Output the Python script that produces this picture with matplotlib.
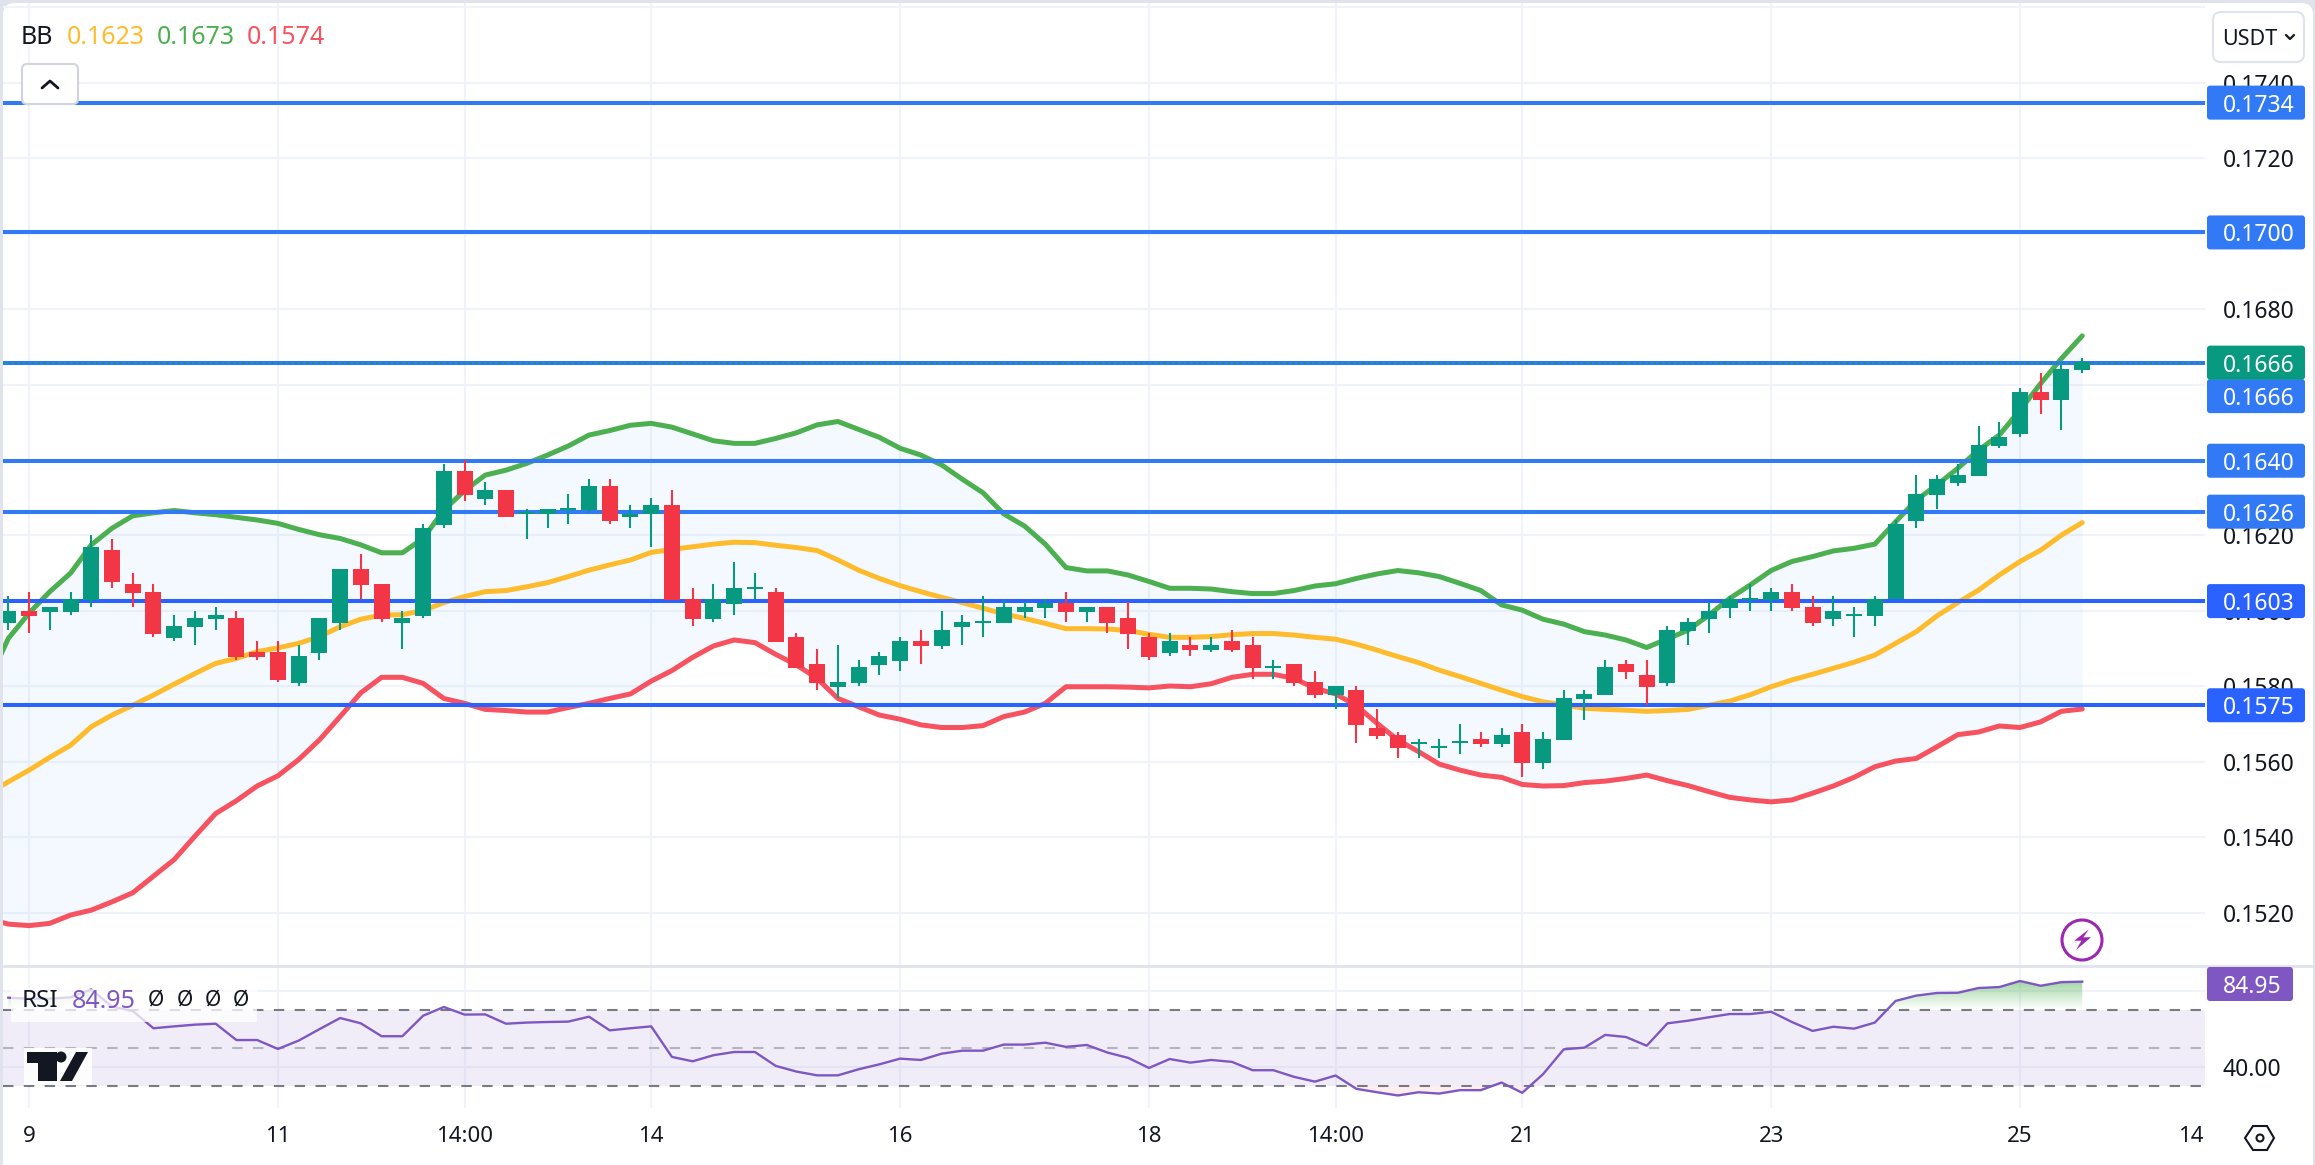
#!/usr/bin/env python3
"""TradingView style candle chart with Bollinger bands, levels and RSI pane."""

import matplotlib
matplotlib.use("Agg")
import matplotlib.pyplot as plt
import numpy as np
from matplotlib.colors import LinearSegmentedColormap
from matplotlib.patches import Circle, Ellipse, FancyBboxPatch, Polygon, Rectangle
from matplotlib.transforms import IdentityTransform

W, H = 2315, 1165

# candles, in 1e-5 USDT
opens = [15969, 16000, 15997, 15997, 16029, 16161, 16071, 16050, 15928, 15957, 15979, 15981, 15891, 15891, 15809, 15888, 15968,
	16111, 16071, 15968, 15986, 16228, 16371, 16297, 16320, 16258, 16257, 16267, 16267, 16331, 16249, 16257, 16281, 16032,
	15979, 16018, 16058, 16050, 15931, 15859, 15798, 15809, 15857, 15867, 15920, 15907, 15957, 15969, 15968, 15997, 16008,
	16021, 15997, 16010, 15981, 15931, 15888, 15910, 15896, 15920, 15910, 15849, 15859, 15812, 15777, 15790, 15690, 15671,
	15647, 15637, 15650, 15661, 15647, 15679, 15597, 15658, 15767, 15777, 15859, 15830, 15809, 15947, 15979, 16008, 16029,
	16029, 16050, 16010, 15979, 15987, 15987, 16032, 16238, 16307, 16339, 16357, 16437, 16469, 16580, 16559, 16638]
highs = [16040, 16050, 16010, 16050, 16201, 16191, 16100, 16071, 15989, 16000, 16010, 16000, 15920, 15920, 15910, 15981, 16111,
	16151, 16071, 16000, 16230, 16389, 16400, 16342, 16320, 16270, 16270, 16310, 16350, 16350, 16281, 16299, 16320, 16061,
	16071, 16130, 16100, 16061, 15941, 15899, 15910, 15870, 15891, 15931, 15949, 16000, 15989, 16040, 16029, 16024, 16032,
	16050, 16010, 16010, 16024, 15941, 15941, 15931, 15931, 15949, 15931, 15870, 15859, 15841, 15801, 15801, 15740, 15679,
	15661, 15661, 15700, 15679, 15690, 15700, 15679, 15790, 15790, 15870, 15870, 15870, 15960, 15981, 16024, 16040, 16071,
	16061, 16071, 16040, 16040, 16010, 16040, 16241, 16360, 16360, 16389, 16490, 16501, 16591, 16630, 16652, 16670]
lows = [15949, 15941, 15949, 15989, 16010, 16061, 16010, 15931, 15920, 15910, 15949, 15870, 15870, 15812, 15801, 15870, 15949,
	16032, 15971, 15899, 15981, 16220, 16291, 16281, 16249, 16191, 16220, 16230, 16259, 16230, 16220, 16169, 16029, 15960,
	15971, 15989, 16032, 15918, 15849, 15790, 15769, 15801, 15830, 15841, 15859, 15899, 15910, 15931, 15968, 15981, 15981,
	15971, 15971, 15941, 15899, 15870, 15881, 15881, 15891, 15891, 15820, 15820, 15801, 15769, 15740, 15650, 15661, 15610,
	15610, 15610, 15621, 15639, 15639, 15560, 15581, 15658, 15711, 15777, 15820, 15751, 15801, 15910, 15941, 15981, 16000,
	16000, 16000, 15960, 15960, 15931, 15960, 16032, 16220, 16270, 16331, 16357, 16432, 16461, 16522, 16479, 16630]
closes = [16000, 15986, 16010, 16032, 16169, 16077, 16047, 15939, 15960, 15981, 15989, 15878, 15878, 15817, 15880, 15981, 16111,
	16069, 15979, 15981, 16220, 16371, 16307, 16320, 16249, 16262, 16270, 16273, 16331, 16238, 16257, 16281, 16029, 15979,
	16032, 16061, 16063, 15918, 15849, 15809, 15812, 15851, 15880, 15920, 15907, 15949, 15971, 15973, 16010, 16010, 16021,
	15997, 16010, 15968, 15939, 15878, 15920, 15896, 15910, 15896, 15849, 15854, 15809, 15777, 15801, 15698, 15669, 15637,
	15653, 15640, 15653, 15647, 15671, 15597, 15661, 15769, 15780, 15851, 15838, 15798, 15949, 15971, 16000, 16032, 16034,
	16050, 16008, 15968, 16000, 15992, 16032, 16230, 16310, 16350, 16360, 16440, 16461, 16580, 16559, 16641, 16660]

# Bollinger bands, first value sits one bar before the first candle
bb_upper = [15808, 15927, 15994, 16051, 16100, 16175, 16219, 16252, 16260, 16266, 16260, 16255, 16248, 16241, 16232, 16216, 16202,
	16192, 16175, 16154, 16154, 16192, 16267, 16319, 16360, 16373, 16391, 16413, 16437, 16466, 16478, 16492, 16497, 16487,
	16469, 16451, 16444, 16444, 16457, 16472, 16493, 16502, 16481, 16460, 16431, 16413, 16387, 16349, 16313, 16257, 16225,
	16177, 16115, 16106, 16106, 16095, 16078, 16060, 16060, 16058, 16051, 16046, 16046, 16054, 16066, 16072, 16086, 16098,
	16107, 16101, 16091, 16073, 16054, 16016, 16002, 15978, 15965, 15945, 15936, 15923, 15903, 15926, 15949, 15989, 16033,
	16069, 16107, 16131, 16144, 16159, 16166, 16177, 16236, 16294, 16334, 16378, 16426, 16466, 16532, 16603, 16669, 16729]
bb_middle = [15516, 15547, 15578, 15612, 15644, 15693, 15724, 15750, 15777, 15806, 15834, 15861, 15874, 15892, 15902, 15914, 15932,
	15958, 15978, 15989, 15990, 16001, 16022, 16038, 16051, 16054, 16064, 16075, 16091, 16108, 16122, 16135, 16155, 16163,
	16170, 16177, 16182, 16181, 16174, 16168, 16160, 16135, 16108, 16086, 16067, 16051, 16036, 16022, 16007, 15992, 15980,
	15967, 15953, 15953, 15952, 15948, 15938, 15930, 15930, 15932, 15937, 15940, 15940, 15936, 15930, 15925, 15912, 15896,
	15879, 15863, 15843, 15826, 15808, 15790, 15773, 15759, 15751, 15742, 15739, 15737, 15734, 15736, 15739, 15750, 15761,
	15778, 15799, 15817, 15832, 15848, 15864, 15883, 15914, 15945, 15987, 16022, 16055, 16095, 16131, 16161, 16201, 16234]
bb_lower = [15185, 15170, 15166, 15172, 15194, 15207, 15229, 15253, 15297, 15341, 15403, 15463, 15497, 15536, 15563, 15606, 15658,
	15720, 15783, 15824, 15824, 15808, 15768, 15755, 15739, 15736, 15732, 15732, 15744, 15755, 15768, 15780, 15814, 15842,
	15877, 15907, 15923, 15916, 15885, 15857, 15821, 15768, 15746, 15724, 15713, 15698, 15691, 15691, 15696, 15720, 15732,
	15755, 15799, 15799, 15799, 15798, 15796, 15801, 15799, 15807, 15824, 15832, 15832, 15821, 15795, 15780, 15749, 15702,
	15658, 15627, 15594, 15578, 15565, 15559, 15540, 15536, 15537, 15545, 15549, 15556, 15565, 15550, 15537, 15521, 15506,
	15499, 15494, 15499, 15517, 15536, 15559, 15587, 15602, 15609, 15640, 15672, 15679, 15695, 15691, 15706, 15734, 15740]

rsi_values = [76.5, 76.0, 76.0, 76.7, 80.9, 71.8, 69.5, 60.4, 61.4, 62.3, 62.8, 54.2, 54.2, 49.5, 53.9, 59.9, 65.8, 63.0, 56.2, 56.2,
	67.0, 71.6, 67.6, 67.7, 62.8, 63.4, 63.7, 63.9, 66.5, 59.3, 60.4, 61.4, 45.3, 43.0, 46.2, 47.9, 47.9, 40.6, 37.6, 35.6,
	35.6, 38.8, 41.4, 44.4, 43.7, 47.0, 48.6, 48.6, 51.8, 51.8, 52.8, 50.6, 51.6, 47.6, 44.8, 39.5, 44.2, 42.3, 43.7, 42.7,
	38.3, 38.3, 34.8, 32.3, 35.5, 28.5, 26.7, 25.0, 26.7, 26.0, 27.8, 27.8, 31.8, 26.4, 36.2, 49.3, 50.2, 56.9, 55.8, 51.2,
	63.0, 64.4, 66.2, 67.9, 67.9, 69.1, 63.7, 59.0, 61.2, 60.2, 63.4, 74.8, 77.6, 79.0, 79.1, 81.6, 82.1, 85.3, 82.8, 84.7, 84.95]

# horizontal levels: where the line sits and what its tag says
level_prices = [0.17347, 0.17003, 0.16658, 0.16398, 0.16263, 0.16026, 0.15750]
level_labels = ["0.1734", "0.1700", "0.1666", "0.1640", "0.1626", "0.1603", "0.1575"]
level_colors = ["#3179f5", "#3179f5", "#3179f5", "#3179f5", "#3179f5", "#2962ff", "#2962ff"]

# 0.1700, 0.1660 and 0.1640 have their grid line but the tags sit on their labels
price_ticks = [0.1740, 0.1720, 0.1680, 0.1620, 0.1600, 0.1580, 0.1560, 0.1540, 0.1520]
price_grid = [0.1760, 0.1740, 0.1720, 0.1700, 0.1680, 0.1660, 0.1640, 0.1620, 0.1600, 0.1580, 0.1560, 0.1540, 0.1520]
rsi_ticks = [40, 80]

time_idx = [1, 13, 22, 31, 43, 55, 64, 73, 85, 97, 106]
time_labels = ["9", "11", "14:00", "14", "16", "18", "14:00", "21", "23", "25", "14:00"]
time_bold = ["14", "21"]

GREEN = "#089981"
RED = "#f23645"
GRID = "#f0f3fa"
TEXT = "#131722"
PURPLE = "#7e57c2"
BB_YELLOW = "#febc2d"
BB_GREEN = "#4caf50"
BB_RED = "#f7525f"

plt.rcParams["font.family"] = ["Noto Sans", "DejaVu Sans"]


def px_axes(fig, x0, y0, x1, y1):
	return fig.add_axes([x0 / W, 1 - y1 / H, (x1 - x0) / W, (y1 - y0) / H])


def tag(ov, y, text, color, x1=2305, h=34, zorder=6):
	ov.add_patch(FancyBboxPatch((2207, y - h / 2), x1 - 2207, h, boxstyle="round,pad=0,rounding_size=3",
		fc=color, ec="none", zorder=zorder))
	ov.text(2259 if x1 > 2300 else 2252, y, text, color="white", fontsize=16.5, ha="center", va="center_baseline", zorder=zorder + 1)


def main():
	fig = plt.figure(figsize=(W / 100, H / 100), dpi=100, facecolor="#e0e3eb")
	fig.add_artist(FancyBboxPatch((3, -20), 2310, H + 17, boxstyle="round,pad=0,rounding_size=12",
		fc="white", ec="none", transform=IdentityTransform(), zorder=-10))

	ax = px_axes(fig, 3, 3, 2205, 966)
	ax_rsi = px_axes(fig, 3, 966, 2205, 1108)
	ax_time = px_axes(fig, 3, 1108, 2205, 1165)
	for a in (ax, ax_rsi, ax_time):
		a.set_facecolor("none")
		a.set_xlim(-0.2555, 105.92)
		a.tick_params(length=0, labelbottom=False, labelleft=False)
		for s in a.spines.values():
			s.set_visible(False)
	ax.set_ylim(0.15059, 0.17611)
	ax_rsi.set_ylim(18.4, 93.2)

	for a in (ax, ax_rsi):
		a.set_xticks(time_idx[:-1])
		a.grid(True, color=GRID, lw=1.5, zorder=0)
		a.set_axisbelow(True)
	ax.set_yticks(price_grid)
	ax_rsi.set_yticks(rsi_ticks)
	ax_time.set_xticks([])
	ax_time.set_yticks([])
	ax_time.set_ylim(0, 1)

	# price pane
	o, h, l, c = [np.array(v) / 1e5 for v in (opens, highs, lows, closes)]
	idx = np.arange(len(o))
	colors = [GREEN if b >= a else RED for a, b in zip(o, c)]
	bb_x = np.arange(-1, len(o))
	up, mid, low = [np.array(v) / 1e5 for v in (bb_upper, bb_middle, bb_lower)]

	ax.fill_between(bb_x, low, up, color="#2196f3", alpha=0.05, lw=0, zorder=1)
	ax.plot(bb_x, mid, color=BB_YELLOW, lw=3.6, zorder=2, solid_capstyle="round")
	ax.plot(bb_x, up, color=BB_GREEN, lw=3.6, zorder=2, solid_capstyle="round")
	ax.plot(bb_x, low, color=BB_RED, lw=3.6, zorder=2, solid_capstyle="round")

	for price, col in zip(level_prices, level_colors):
		ax.axhline(price, color=col, lw=2.9, zorder=3)
	ax.axhline(closes[-1] / 1e5 - 0.00002, color=GREEN, lw=1.4, ls=(0, (1, 2)), zorder=3.5)

	ax.vlines(idx, l, h, colors=colors, lw=1.5, zorder=4)
	ax.bar(idx, np.maximum(np.abs(c - o), 0.00004), bottom=np.minimum(o, c), width=0.77, color=colors, lw=0, zorder=5)

	# rsi pane
	rsi = np.array(rsi_values)
	ax_rsi.axhspan(30, 70, color=PURPLE, alpha=0.1, lw=0, zorder=1)
	ax_rsi.hlines([70, 30], -0.2555, 105.92, color="#787b86", lw=1.5, ls=(0, (5, 5)), zorder=2)
	ax_rsi.hlines(50, -0.2555, 105.92, color="#b2b5be", lw=1.5, ls=(0, (5, 5)), zorder=2)
	ax_rsi.fill_between(idx, rsi, 30, where=rsi <= 30, interpolate=True, color=RED, alpha=0.08, lw=0, zorder=2)
	over = ax_rsi.fill_between(idx, rsi, 70, where=rsi >= 70, interpolate=True, color="none", lw=0)
	fade = LinearSegmentedColormap.from_list("fade", [(0.30, 0.69, 0.31, 0.55), (0.30, 0.69, 0.31, 0.0)])
	for path in over.get_paths():
		im = ax_rsi.imshow(np.linspace(0, 1, 64).reshape(-1, 1), extent=(-1, 101, 70, 86), origin="upper",
			aspect="auto", cmap=fade, zorder=2.5)
		im.set_clip_path(path, transform=ax_rsi.transData)
	ax_rsi.set_xlim(-0.2555, 105.92)
	ax_rsi.set_ylim(18.4, 93.2)
	ax_rsi.plot(idx, rsi, color=PURPLE, lw=1.7, zorder=3)

	# time axis, the last label is cut by the price scale
	for i, label in zip(time_idx, time_labels):
		ax_time.text(i, 0.5, label, ha="center", va="center", fontsize=16, color=TEXT, clip_on=True,
			fontweight="bold" if label in time_bold else "normal")

	# overlay in pixels for the scale, tags and chart furniture
	fig.canvas.draw()
	ov = px_axes(fig, 0, 0, W, H)
	ov.set_xlim(0, W)
	ov.set_ylim(H, 0)
	ov.axis("off")

	def price_y(price):
		return H - ax.transData.transform((0, price))[1]

	def rsi_y(value):
		return H - ax_rsi.transData.transform((0, value))[1]

	ov.plot([3, W - 2], [966, 966], color="#e0e3eb", lw=2, zorder=1)

	for price in price_ticks:
		ov.text(2259, price_y(price), f"{price:.4f}", color=TEXT, fontsize=16.5, ha="center", va="center_baseline", zorder=2)
	ov.text(2252, rsi_y(40), "40.00", color=TEXT, fontsize=16.5, ha="center", va="center_baseline", zorder=2)

	for price, label, col in zip(level_prices, level_labels, level_colors):
		if label == "0.1666":
			tag(ov, price_y(price) + 33.5, label, col)
		else:
			tag(ov, price_y(price), label, col)
	tag(ov, price_y(level_prices[2]), "0.1666", GREEN, zorder=8)
	tag(ov, 984, "84.95", PURPLE, x1=2293)

	# top legend
	for x, text, col in zip([21, 67, 157, 247], ["BB", "0.1623", "0.1673", "0.1574"], [TEXT, BB_YELLOW, BB_GREEN, BB_RED]):
		ov.text(x, 35, text, color=col, fontsize=18, ha="left", va="center_baseline", zorder=5)

	# collapse button
	ov.add_patch(FancyBboxPatch((22, 64), 56, 40, boxstyle="round,pad=0,rounding_size=5", fc="white", ec="#d1d4dc", lw=1.5, zorder=5))
	ov.plot([42, 50, 58], [88, 81, 88], color=TEXT, lw=2, zorder=6, solid_capstyle="round", solid_joinstyle="round")

	# currency button
	ov.add_patch(FancyBboxPatch((2213, 12), 91, 50, boxstyle="round,pad=0,rounding_size=8", fc="white", ec="#e0e3eb", lw=1.5, zorder=5))
	ov.text(2222, 37, "USDT", color=TEXT, fontsize=15.5, ha="left", va="center_baseline", zorder=6)
	ov.plot([2286, 2290, 2294], [35, 39, 35], color=TEXT, lw=1.6, zorder=6, solid_capstyle="round")

	# rsi legend
	ov.add_patch(Rectangle((11, 989), 246, 33, fc="white", ec="none", alpha=0.75, zorder=3))
	ov.text(22, 998, "RSI", color=TEXT, fontsize=17.5, ha="left", va="center_baseline", zorder=5)
	ov.text(72, 998, "84.95", color=PURPLE, fontsize=18, ha="left", va="center_baseline", zorder=5)
	for x in [156, 185, 213, 241]:
		ov.text(x, 998, "Ø", color=TEXT, fontsize=15, ha="center", va="center_baseline", zorder=5)

	# tradingview mark
	ov.add_patch(Rectangle((24, 1048), 68, 37, fc="white", ec="none", alpha=0.9, zorder=3))
	ov.add_patch(Polygon([(27, 1052), (57, 1052), (57, 1081), (38, 1081), (38, 1063), (27, 1063)], fc=TEXT, ec="none", zorder=4))
	ov.add_patch(Ellipse((61, 1057), 11, 11, fc=TEXT, ec="none", zorder=4))
	ov.add_patch(Polygon([(76, 1052), (88, 1052), (72, 1081), (60, 1081)], fc=TEXT, ec="none", zorder=4))

	# lightning marker
	ov.add_patch(Circle((2082, 940), 20, fc="white", ec="#9c27b0", lw=2.2, zorder=5))
	ov.add_patch(Polygon([(2088.8, 929.3), (2074.2, 940.7), (2081.5, 940.7), (2076, 950), (2091, 937.3), (2083.4, 937.3)],
		fc="#9c27b0", ec="none", zorder=6))

	# settings icon
	ov.add_patch(Polygon([(2245, 1138), (2253, 1126), (2267, 1126), (2274, 1138), (2267, 1150), (2253, 1150)],
		fc="white", ec=TEXT, lw=1.5, zorder=5))
	ov.add_patch(Circle((2260, 1138), 3.5, fc="white", ec=TEXT, lw=1.5, zorder=6))

	fig.savefig("out.png", dpi=100, facecolor=fig.get_facecolor())


if __name__ == "__main__":
	main()
